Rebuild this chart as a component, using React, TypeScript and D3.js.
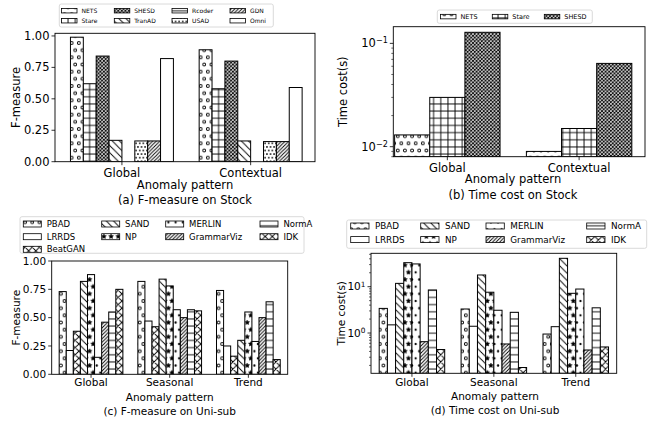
import React from 'react';
import * as d3 from 'd3';

// ---- data ----
const stockPatterns = ['Global', 'Contextual'];
const stockFMethods = ['NETS', 'Stare', 'SHESD', 'TranAD', 'Rcoder', 'USAD', 'GDN', 'Omni'];
const stockFGlobal = [0.99, 0.62, 0.84, 0.17, 0, 0.165, 0.165, 0.82];
const stockFContextual = [0.89, 0.58, 0.8, 0.165, 0, 0.16, 0.16, 0.59];

const stockTimeMethods = ['NETS', 'Stare', 'SHESD'];
const stockTimeGlobal = [0.013, 0.03, 0.128];
const stockTimeContextual = [0.009, 0.015, 0.064];

const uniPatterns = ['Global', 'Seasonal', 'Trend'];
const uniFMethods = ['PBAD', 'LRRDS', 'BeatGAN', 'SAND', 'NP', 'MERLIN', 'GrammarViz', 'NormA', 'IDK'];
const uniFGlobal = [0.73, 0.21, 0.38, 0.82, 0.88, 0.15, 0.46, 0.55, 0.75];
const uniFSeasonal = [0.82, 0.47, 0.42, 0.84, 0.78, 0.57, 0.5, 0.57, 0.56];
const uniFTrend = [0.74, 0.25, 0.16, 0.3, 0.55, 0.29, 0.5, 0.64, 0.13];

const uniTimeMethods = ['PBAD', 'LRRDS', 'SAND', 'NP', 'MERLIN', 'GrammarViz', 'NormA', 'IDK'];
const uniTimeGlobal = [3.4, 1.5, 11.8, 33, 31, 0.65, 8.5, 0.44];
const uniTimeSeasonal = [3.3, 1.4, 17.9, 7.6, 3.1, 0.58, 2.8, 0.18];
const uniTimeTrend = [0.95, 1.37, 41, 7.2, 8.9, 0.43, 3.5, 0.5];

const fTicks = [0, 0.25, 0.5, 0.75, 1];

// ---- hatch styles ----
const HATCH: Record<string, string> = {
  NETS: 'o', Stare: '+', SHESD: 'xx', TranAD: '\\', Rcoder: '-', USAD: '..', GDN: '//', Omni: '',
  PBAD: 'o', LRRDS: '', BeatGAN: 'x', SAND: '\\', NP: '*', MERLIN: '.', GrammarViz: '//', NormA: '-', IDK: 'x',
};
const PID: Record<string, string> = {
  'o': 'hc', '+': 'hp', 'xx': 'hxx', '\\': 'hb', '-': 'hh', '..': 'hdd', '//': 'hff', 'x': 'hx', '*': 'hs', '.': 'hd',
};
const fillOf = (m: string) => (HATCH[m] ? `url(#${PID[HATCH[m]]})` : '#fff');

const U = 43;
const S1 = U / 6;
const S2 = U / 12;
const HW = 0.9;

const back = (s: number) => `M0 0L${s} ${s}M-1 ${s - 1}L1 ${s + 1}M${s - 1} -1L${s + 1} 1`;
const fwd = (s: number) => `M0 ${s}L${s} 0M-1 1L1 -1M${s - 1} ${s + 1}L${s + 1} ${s - 1}`;
const stagger = (s: number) => [[0, 0], [s, 0], [0, 2 * s], [s, 2 * s], [s / 2, s]];

function starPath(cx: number, cy: number, R: number) {
  const pts = d3.range(10).map(i => {
    const a = -Math.PI / 2 + (i * Math.PI) / 5;
    const r = i % 2 ? R * 0.5 : R;
    return [cx + r * Math.cos(a), cy + r * Math.sin(a)];
  });
  return 'M' + pts.map(p => p.join(' ')).join('L') + 'Z';
}

function HatchDefs() {
  const s = S1, t = S2;
  const ln = { stroke: '#000', strokeWidth: HW, fill: 'none' };
  const pat = (id: string, w: number, h: number, body: React.ReactNode) => (
    <pattern id={id} patternUnits="userSpaceOnUse" width={w} height={h}>
      <rect width={w} height={h} fill="#fff" />
      {body}
    </pattern>
  );
  return (
    <defs>
      {pat('hh', s, s, <path d={`M0 ${s / 2}H${s}`} {...ln} />)}
      {pat('hp', s, s, <path d={`M0 ${s / 2}H${s}M${s / 2} 0V${s}`} {...ln} />)}
      {pat('hb', s, s, <path d={back(s)} {...ln} />)}
      {pat('hff', t, t, <path d={fwd(t)} {...ln} />)}
      {pat('hx', s, s, <path d={back(s) + fwd(s)} {...ln} />)}
      {pat('hxx', t, t, <path d={back(t) + fwd(t)} {...ln} />)}
      {pat('hc', s, 2 * s, stagger(s).map((p, i) => <circle key={i} cx={p[0]} cy={p[1]} r={0.2 * s} {...ln} />))}
      {pat('hd', s, 2 * s, stagger(s).map((p, i) => <circle key={i} cx={p[0]} cy={p[1]} r={0.1 * s} fill="#000" stroke="#000" strokeWidth={HW} />))}
      {pat('hdd', t, 2 * t, stagger(t).map((p, i) => <circle key={i} cx={p[0]} cy={p[1]} r={0.1 * t} fill="#000" stroke="#000" strokeWidth={HW} />))}
      {pat('hs', s, 2 * s, stagger(s).map((p, i) => <path key={i} d={starPath(p[0], p[1], s / 3)} fill="#000" stroke="#000" strokeWidth={HW * 0.6} />))}
    </defs>
  );
}

type Box = { x0: number; x1: number; y0: number; y1: number };
type LegendCfg = { x: number; y: number; w: number; h: number; cols: number[]; rows: number[]; hw: number; hh: number; tx: number; font: number };
type PanelProps = {
  id: string;
  methods: string[];
  cats: string[];
  values: number[][];
  box: Box;
  xlim: [number, number];
  ylim: [number, number];
  log: boolean;
  barW: number;
  font: number;
  yTicks: number[];
  ylabel: string;
  ylabelX: number;
  xtickY: number;
  xlabelY: number;
  captionY: number;
  labelX: number;
  caption: string;
  legend: LegendCfg;
};

function splitCols(n: number, ncol: number) {
  const base = Math.floor(n / ncol), extra = n % ncol;
  const out: number[][] = [];
  let k = 0;
  for (let c = 0; c < ncol; c++) {
    const len = base + (c < extra ? 1 : 0);
    out.push(d3.range(k, k + len));
    k += len;
  }
  return out;
}

function Legend({ methods, cfg }: { methods: string[]; cfg: LegendCfg }) {
  const cols = splitCols(methods.length, cfg.cols.length);
  return (
    <g>
      <rect x={cfg.x} y={cfg.y} width={cfg.w} height={cfg.h} rx={2} fill="#fff" fillOpacity={0.8} stroke="#d0d0d0" strokeWidth={0.8} />
      {cols.map((idx, c) =>
        idx.map((mi, r) => {
          const m = methods[mi];
          const hx = cfg.cols[c], cy = cfg.rows[r];
          return (
            <g key={m}>
              <rect x={hx} y={cy - cfg.hh / 2} width={cfg.hw} height={cfg.hh} fill={fillOf(m)} stroke="#000" strokeWidth={0.8} />
              <text x={hx + cfg.tx} y={cy} dy="0.35em" fontSize={cfg.font}>{m}</text>
            </g>
          );
        })
      )}
    </g>
  );
}

function Panel(p: PanelProps) {
  const { box } = p;
  const x = d3.scaleLinear().domain(p.xlim).range([box.x0, box.x1]);
  const y = p.log
    ? d3.scaleLog().domain(p.ylim).range([box.y1, box.y0])
    : d3.scaleLinear().domain(p.ylim).range([box.y1, box.y0]);
  const n = p.methods.length;
  const fmt = d3.format('.2f');

  const bars: React.ReactNode[] = [];
  p.cats.forEach((c, ci) =>
    p.methods.forEach((m, mi) => {
      const v = p.values[ci][mi];
      const cx = ci + (mi - (n - 1) / 2) * p.barW;
      const xl = x(cx - p.barW / 2), xr = x(cx + p.barW / 2);
      const yt = y(v);
      const yb = box.y1;
      if (yb - yt <= 0) return;
      bars.push(
        <rect key={c + m} x={xl} y={yt} width={xr - xl} height={yb - yt} fill={fillOf(m)} stroke="#000" strokeWidth={1} />
      );
    })
  );

  const minor: number[] = [];
  if (p.log) {
    const lo = Math.floor(Math.log10(p.ylim[0])), hi = Math.ceil(Math.log10(p.ylim[1]));
    for (let k = lo; k <= hi; k++)
      for (let mm = 2; mm <= 9; mm++) {
        const v = mm * Math.pow(10, k);
        if (v >= p.ylim[0] && v <= p.ylim[1]) minor.push(v);
      }
  }
  const midY = (box.y0 + box.y1) / 2;

  return (
    <g>
      <clipPath id={'clip' + p.id}>
        <rect x={box.x0} y={box.y0} width={box.x1 - box.x0} height={box.y1 - box.y0} />
      </clipPath>
      <g clipPath={`url(#clip${p.id})`}>{bars}</g>
      <rect x={box.x0} y={box.y0} width={box.x1 - box.x0} height={box.y1 - box.y0} fill="none" stroke="#000" strokeWidth={0.9} />
      {p.yTicks.map(t => (
        <g key={t}>
          <line x1={box.x0} x2={box.x0 - 3.5} y1={y(t)} y2={y(t)} stroke="#000" strokeWidth={0.8} />
          {p.log ? (
            <text x={box.x0 - 5.5} y={y(t)} dy="0.35em" textAnchor="end" fontSize={p.font}>
              10<tspan dy="-0.5em" fontSize={p.font * 0.7}>{Math.round(Math.log10(t)) < 0 ? '\u2212' + Math.abs(Math.round(Math.log10(t))) : Math.round(Math.log10(t))}</tspan>
            </text>
          ) : (
            <text x={box.x0 - 5.5} y={y(t)} dy="0.35em" textAnchor="end" fontSize={p.font}>{fmt(t)}</text>
          )}
        </g>
      ))}
      {minor.map(t => (
        <line key={t} x1={box.x0} x2={box.x0 - 2} y1={y(t)} y2={y(t)} stroke="#000" strokeWidth={0.6} />
      ))}
      {p.cats.map((c, ci) => (
        <g key={c}>
          <line x1={x(ci)} x2={x(ci)} y1={box.y1} y2={box.y1 + 3.5} stroke="#000" strokeWidth={0.8} />
          <text x={x(ci)} y={p.xtickY} textAnchor="middle" fontSize={p.font}>{c}</text>
        </g>
      ))}
      <text transform={`translate(${p.ylabelX},${midY}) rotate(-90)`} textAnchor="middle" dy="0.35em" fontSize={p.font}>{p.ylabel}</text>
      <text x={p.labelX} y={p.xlabelY} textAnchor="middle" fontSize={p.font}>Anomaly pattern</text>
      <text x={p.labelX} y={p.captionY} textAnchor="middle" fontSize={p.font}>{p.caption}</text>
      <Legend methods={p.methods} cfg={p.legend} />
    </g>
  );
}

export default function App() {
  return (
    <div style={{ position: 'absolute', left: 0, top: 0 }}>
      <svg width={653} height={423} style={{ display: 'block', fontFamily: "'DejaVu Sans', sans-serif" }}>
        <HatchDefs />
        <rect width={653} height={423} fill="#fff" />
        <Panel
          id="a"
          methods={stockFMethods}
          cats={stockPatterns}
          values={[stockFGlobal, stockFContextual]}
          box={{ x0: 55, x1: 315, y0: 33.3, y1: 161.7 }}
          xlim={[-0.52, 1.5]}
          ylim={[0, 1.021]}
          log={false}
          barW={0.1}
          font={11.5}
          yTicks={fTicks}
          ylabel="F-measure"
          ylabelX={16}
          xtickY={176.5}
          xlabelY={188.5}
          captionY={204}
          labelX={185}
          caption="(a) F-measure on Stock"
          legend={{ x: 59.3, y: 4, w: 214, h: 23, cols: [61.5, 114.3, 172, 230], rows: [10.7, 20.7], hw: 15.5, hh: 4.5, tx: 20, font: 6 }}
        />
        <Panel
          id="b"
          methods={stockTimeMethods}
          cats={stockPatterns}
          values={[stockTimeGlobal, stockTimeContextual]}
          box={{ x0: 393.3, x1: 645, y0: 26.7, y1: 156.7 }}
          xlim={[-0.41, 1.5]}
          ylim={[0.008, 0.145]}
          log={true}
          barW={0.8 / 3}
          font={11.5}
          yTicks={[0.01, 0.1]}
          ylabel="Time cost(s)"
          ylabelX={342.5}
          xtickY={171.7}
          xlabelY={183}
          captionY={198.5}
          labelX={513}
          caption="(b) Time cost on Stock"
          legend={{ x: 437.3, y: 10, w: 155, h: 13.3, cols: [440.5, 492.3, 544.3], rows: [16.6], hw: 15.5, hh: 4.5, tx: 20, font: 6.5 }}
        />
        <Panel
          id="c"
          methods={uniFMethods}
          cats={uniPatterns}
          values={[uniFGlobal, uniFSeasonal, uniFTrend]}
          box={{ x0: 51.7, x1: 287.7, y0: 261, y1: 374.3 }}
          xlim={[-0.5, 2.5]}
          ylim={[0, 1]}
          log={false}
          barW={0.09}
          font={10.5}
          yTicks={fTicks}
          ylabel="F-measure"
          ylabelX={16.7}
          xtickY={386}
          xlabelY={401}
          captionY={415}
          labelX={169.7}
          caption="(c) F-measure on Uni-sub"
          legend={{ x: 20, y: 216.7, w: 284, h: 36.6, cols: [23.3, 101.7, 165.7, 260], rows: [224, 236.7, 249.3], hw: 18, hh: 6, tx: 23.4, font: 8.5 }}
        />
        <Panel
          id="d"
          methods={uniTimeMethods}
          cats={uniPatterns}
          values={[uniTimeGlobal, uniTimeSeasonal, uniTimeTrend]}
          box={{ x0: 371, x1: 616.7, y0: 253.3, y1: 373.3 }}
          xlim={[-0.5, 2.5]}
          ylim={[0.135, 52.6]}
          log={true}
          barW={0.1}
          font={10.5}
          yTicks={[1, 10]}
          ylabel="Time cost(s)"
          ylabelX={341}
          xtickY={385.7}
          xlabelY={400}
          captionY={414}
          labelX={495}
          caption="(d) Time cost on Uni-sub"
          legend={{ x: 346.7, y: 220, w: 300, h: 28.3, cols: [350.7, 420.7, 486, 586.7], rows: [226, 239.6], hw: 18.3, hh: 6, tx: 24.3, font: 8.8 }}
        />
      </svg>
    </div>
  );
}
